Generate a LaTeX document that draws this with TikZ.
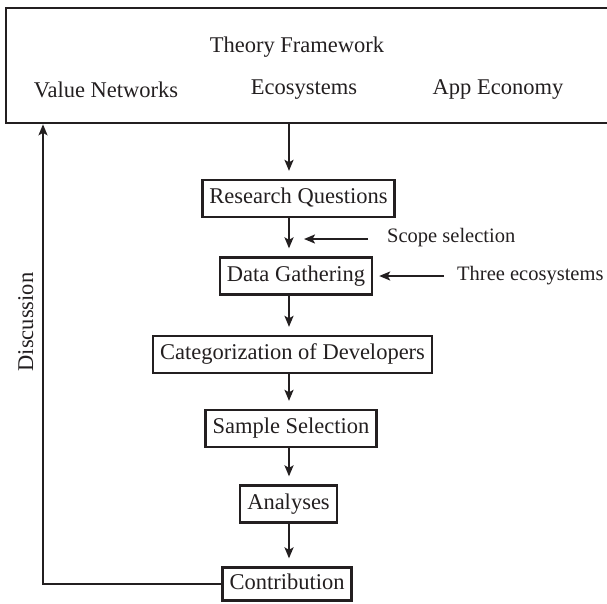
\documentclass[tikz,border=0pt]{standalone}
\usepackage{fontspec}
\setmainfont{Liberation Serif}
\usetikzlibrary{arrows.meta}
\definecolor{ink}{HTML}{231F20}
\begin{document}
\begin{tikzpicture}[x=1pt,y=-1pt,
  every node/.style={text=ink, font=\fontsize{22.5}{27}\selectfont},
  stepbox/.style={draw=ink, line width=2.3pt, inner xsep=7pt, inner ysep=0pt,
    minimum height=37pt, text height=15pt, text depth=5pt},
  lbl/.style={font=\fontsize{20.5}{24}\selectfont, inner sep=0pt},
  arr/.style={draw=ink, line width=2pt, -{Stealth[length=11pt,width=9pt,inset=2.5pt]}},
  flow/.style={arr, shorten >=8pt}]
\useasboundingbox (0,0) rectangle (607,603);

% theory framework frame
\node (frame) [draw=ink, line width=2.3pt, minimum width=603pt, minimum height=115pt,
  inner sep=0pt, anchor=north west] at (5,7) {};
\node (theory) [anchor=base] at (297,52) {Theory Framework};
\node (valnet) [anchor=base] at (106,97) {Value Networks};
\node (ecosys) [anchor=base] at (304,94) {Ecosystems};
\node (appeco) [anchor=base] at (498,94) {App Economy};

% process steps
\node (rq) [stepbox] at (298.5,198.5) {Research Questions};
\node (dg) [stepbox] at (296,276) {Data Gathering};
\node (cd) [stepbox] at (292.5,354.5) {Categorization of Developers};
\node (ss) [stepbox] at (291,428.5) {Sample Selection};
\node (an) [stepbox] at (288.5,504) {Analyses};
\node (co) [stepbox, minimum height=33pt] at (287,584) {Contribution};

% side inputs
\node (scope) [lbl, anchor=west] at (387,238) {Scope selection};
\node (three) [lbl, anchor=west] at (457,276) {Three ecosystems};
\node (disc) [anchor=base, rotate=90] at (33,322) {Discussion};

% vertical spine of the flow and feedback column
\coordinate (spine) at (289,0);
\coordinate (fb) at (43,0);
\coordinate (scopetip) at (304,239);

\draw[flow] (frame.south -| spine) -- (rq.north -| spine);
\draw[flow] (rq.south -| spine) -- (dg.north -| spine);
\draw[flow] (dg.south -| spine) -- (cd.north -| spine);
\draw[flow] (cd.south -| spine) -- (ss.north -| spine);
\draw[flow] (ss.south -| spine) -- (an.north -| spine);
\draw[flow] (an.south -| spine) -- (co.north -| spine);

\draw[arr, shorten <=19pt] (scope.west |- scopetip) -- (scopetip);
\draw[arr, shorten <=13pt, shorten >=6pt] (three.west |- dg.east) -- (dg.east);

\draw[arr] (co.west) -- (co.west -| fb) -- (frame.south -| fb);
\end{tikzpicture}
\end{document}
